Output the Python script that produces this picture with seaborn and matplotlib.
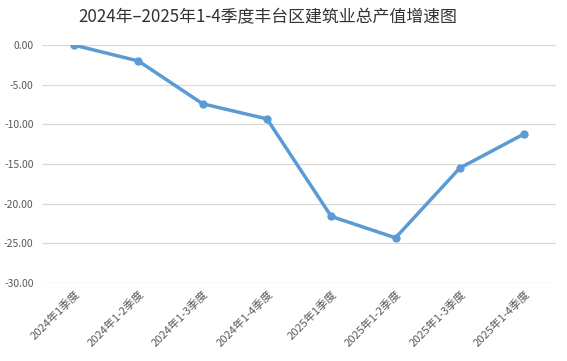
import matplotlib
matplotlib.use("Agg")
import matplotlib.pyplot as plt
import seaborn as sns
import pandas as pd

categories = ["2024年1季度", "2024年1-2季度", "2024年1-3季度", "2024年1-4季度",
              "2025年1季度", "2025年1-2季度", "2025年1-3季度", "2025年1-4季度"]
values = [0.0, -2.0, -7.4, -9.3, -21.6, -24.3, -15.5, -11.2]
yticks = [0, -5, -10, -15, -20, -25, -30]
title = "2024年–2025年1-4季度丰台区建筑业总产值增速图"

sns.set_theme(style="white")
plt.rcParams['font.family'] = ['Noto Sans CJK SC', 'DejaVu Sans']
plt.rcParams['axes.unicode_minus'] = False

df = pd.DataFrame({"cat": categories, "val": values})

fig = plt.figure(figsize=(5.67, 3.61), dpi=100)
ax = fig.add_axes([0.074, 0.216, 0.907, 0.659])
sns.lineplot(data=df, x="cat", y="val", ax=ax, color="#5B9BD5", linewidth=2.5,
             marker="o", markersize=6, markeredgewidth=0, sort=False)
ax.set_xlim(-0.5, len(categories) - 0.5)
ax.set_ylim(-30, 0)
ax.set_yticks(yticks)
ax.set_yticklabels([f"{v:.2f}" if v != 0 else "0.00" for v in yticks], fontsize=7.5, color="#595959")
ax.grid(axis="y", color="#D9D9D9", linewidth=0.9)
ax.set_axisbelow(True)
for s in ax.spines.values():
    s.set_visible(False)
ax.tick_params(axis="both", length=0, pad=6)
ax.set_xticks(range(len(categories)))
ax.set_xticklabels(categories, rotation=45, ha="right", rotation_mode="anchor",
                   fontsize=8, color="#595959")
ax.tick_params(axis="x", pad=4)
ax.set_xlabel("")
ax.set_ylabel("")
fig.text(0.473, 0.953, title, ha="center", va="center", fontsize=12.2, color="#333333")
fig.savefig("out.png", dpi=100)
